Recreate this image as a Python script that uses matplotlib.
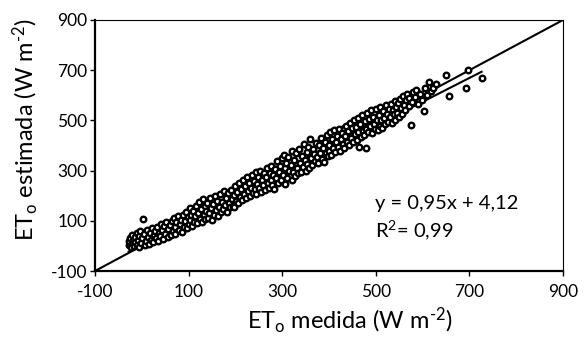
import matplotlib
matplotlib.use("Agg")
import matplotlib.pyplot as plt
import numpy as np

plt.rcParams['font.family'] = ['Lato', 'DejaVu Sans']
plt.rcParams['mathtext.fontset'] = 'custom'
plt.rcParams['mathtext.rm'] = 'Lato'
plt.rcParams['mathtext.it'] = 'Lato:italic'
plt.rcParams['mathtext.bf'] = 'Lato:bold'
plt.rcParams['axes.unicode_minus'] = False

# ---- data ----
eto_medida = [
    -28, -27, -25, -24, -22, -21, -19, -17, -15, -14,
    -11, -10, -8, -6, -5, -3, -1, 1, 3, 5, 7, 9, 11,
    13, 15, 17, 19, 21, 23, 26, 28, 31, 33, 35, 37,
    39, 41, 43, 45, 48, 50, 52, 55, 57, 60, 62, 64,
    66, 68, 70, 72, 74, 77, 79, 81, 83, 86, 88, 90,
    92, 94, 96, 98, 100, 102, 104, 106, 108, 110, 112, 114,
    116, 118, 120, 122, 124, 126, 128, 130, 132, 134, 136, 138,
    140, 142, 144, 146, 148, 150, 152, 154, 157, 159, 161, 163,
    165, 167, 169, 171, 173, 176, 178, 180, 182, 184, 186, 188,
    190, 192, 194, 196, 198, 200, 202, 204, 206, 208, 210, 212,
    214, 216, 218, 220, 222, 224, 227, 229, 231, 233, 235, 237,
    239, 241, 243, 245, 247, 249, 251, 253, 255, 257, 259, 261,
    263, 265, 267, 269, 271, 273, 275, 277, 279, 281, 283, 285,
    287, 289, 291, 293, 295, 297, 299, 301, 303, 305, 307, 309,
    311, 313, 315, 318, 320, 322, 324, 326, 328, 330, 332, 334,
    336, 338, 340, 342, 344, 346, 348, 350, 352, 354, 356, 358,
    360, 362, 364, 366, 368, 370, 372, 374, 376, 378, 380, 383,
    385, 387, 389, 391, 393, 395, 397, 399, 401, 403, 405, 407,
    409, 411, 413, 415, 417, 419, 421, 423, 425, 427, 429, 431,
    433, 435, 437, 439, 441, 443, 445, 447, 449, 451, 453, 455,
    457, 459, 461, 463, 464, 466, 468, 470, 472, 474, 476, 478, 480,
    482, 484, 486, 488, 490, 492, 494, 496, 498, 500, 502, 504,
    506, 508, 510, 512, 514, 516, 518, 520, 522, 524, 526, 528,
    530, 532, 534, 536, 538, 540, 542, 544, 546, 548, 550, 552,
    554, 556, 558, 560, 562, 565, 567, 570, 572, 576, 578, 580,
    583, 586, 590, 594, 598, 603, 606, 610, 614, 618,
    622, 628, 651, 657, 692, 698, 726,
]
eto_estimada = [
    2, 18, 32, -6, 10, 42, 25, 0, 14, 36,
    50, 5, 22, 40, -3, 58, 12, 30, 106, 46, 2, 20, 62,
    36, 8, 52, 24, 70, 14, 44, 60, 30, 76, 18, 50,
    38, 88, 62, 26, 78, 48, 96, 34, 66, 84, 42, 100,
    58, 112, 76, 46, 94, 120, 64, 86, 104, 54, 124, 76,
    98, 136, 70, 114, 86, 150, 104, 124, 78, 140, 96, 118,
    160, 90, 132, 176, 108, 146, 94, 186, 122, 158, 106, 140,
    172, 112, 130, 190, 150, 104, 168, 124, 198, 142, 180, 118,
    156, 206, 136, 174, 148, 218, 162, 192, 134, 210, 172, 154,
    224, 186, 160, 204, 154, 240, 178, 214, 170, 250, 196, 228,
    184, 262, 206, 240, 190, 274, 218, 252, 200, 230, 284, 212,
    260, 226, 296, 206, 246, 274, 232, 300, 216, 262, 244, 290,
    222, 276, 310, 250, 232, 292, 264, 320, 242, 282, 226, 306,
    270, 340, 252, 296, 318, 262, 350, 284, 364, 248, 310, 332,
    272, 356, 300, 324, 262, 378, 296, 344, 280, 370, 312, 290,
    388, 330, 296, 360, 314, 404, 342, 300, 376, 326, 396, 310,
    424, 350, 324, 386, 366, 338, 410, 356, 330, 400, 372, 430,
    346, 392, 336, 414, 372, 442, 358, 400, 380, 452, 364, 426,
    390, 460, 376, 412, 436, 396, 466, 380, 424, 448, 404, 470,
    392, 436, 478, 414, 456, 400, 490, 430, 468, 412, 500, 444,
    474, 420, 510, 452, 396, 484, 432, 520, 458, 440, 498, 464, 392,
    530, 452, 504, 476, 540, 448, 512, 486, 466, 544, 500, 460,
    522, 478, 552, 500, 470, 536, 508, 486, 560, 524, 494, 546,
    512, 566, 488, 540, 524, 576, 500, 552, 530, 570, 514, 584,
    548, 526, 596, 560, 540, 580, 606, 556, 590, 480, 574, 612,
    594, 620, 566, 604, 580, 536, 628, 600, 652, 616,
    630, 644, 680, 596, 628, 700, 668,
]
slope = 0.95
intercept = 4.12
r2_text = "0,99"
ticks = [-100, 100, 300, 500, 700, 900]
axis_min, axis_max = -100, 900

x = np.array(eto_medida, dtype=float)
y = np.array(eto_estimada, dtype=float)

W, H = 584, 341
fig = plt.figure(figsize=(W/100, H/100), dpi=100)
ax = fig.add_axes([95/W, 1-271/H, 468/W, 251/H])

# 1:1 line
ax.plot([axis_min, axis_max], [axis_min, axis_max], color='black', lw=1.5, zorder=2)
# regression line
xr = np.array([x.min(), x.max()])
ax.plot(xr, slope*xr + intercept, color='black', lw=1.5, zorder=2)

ax.plot(x, y, linestyle='none', marker='o', ms=4.0, mew=1.7,
        mec='black', mfc='white', zorder=3)

ax.set_xlim(axis_min, axis_max)
ax.set_ylim(axis_min, axis_max)
ax.set_xticks(ticks)
ax.set_yticks(ticks)
ax.tick_params(direction='out', length=3.5, width=1, labelsize=12.5, colors='black')
ax.tick_params(axis='x', pad=6)
ax.tick_params(axis='y', pad=2)

for s in ['left', 'bottom']:
    ax.spines[s].set_linewidth(1.6)
for s in ['top', 'right']:
    ax.spines[s].set_linewidth(0.8)

fig.text(350/W, 1-320/H, r"ET$_\mathrm{o}$ medida (W m$^{\text{-}2}$)", fontsize=17,
         ha='center', va='center')
fig.text(25/W, 1-130/H, r"ET$_\mathrm{o}$ estimada (W m$^{\text{-}2}$)", fontsize=17,
         ha='center', va='center', rotation=90)

fig.text(375/W, 1-203/H, f"y = {slope:.2f}x + {intercept:.2f}".replace('.', ','),
         fontsize=14.5, va='center', ha='left')
fig.text(375/W, 1-230/H, r"R$^2$= " + r2_text,
         fontsize=14.5, va='center', ha='left')

fig.savefig("out.png", dpi=100)
